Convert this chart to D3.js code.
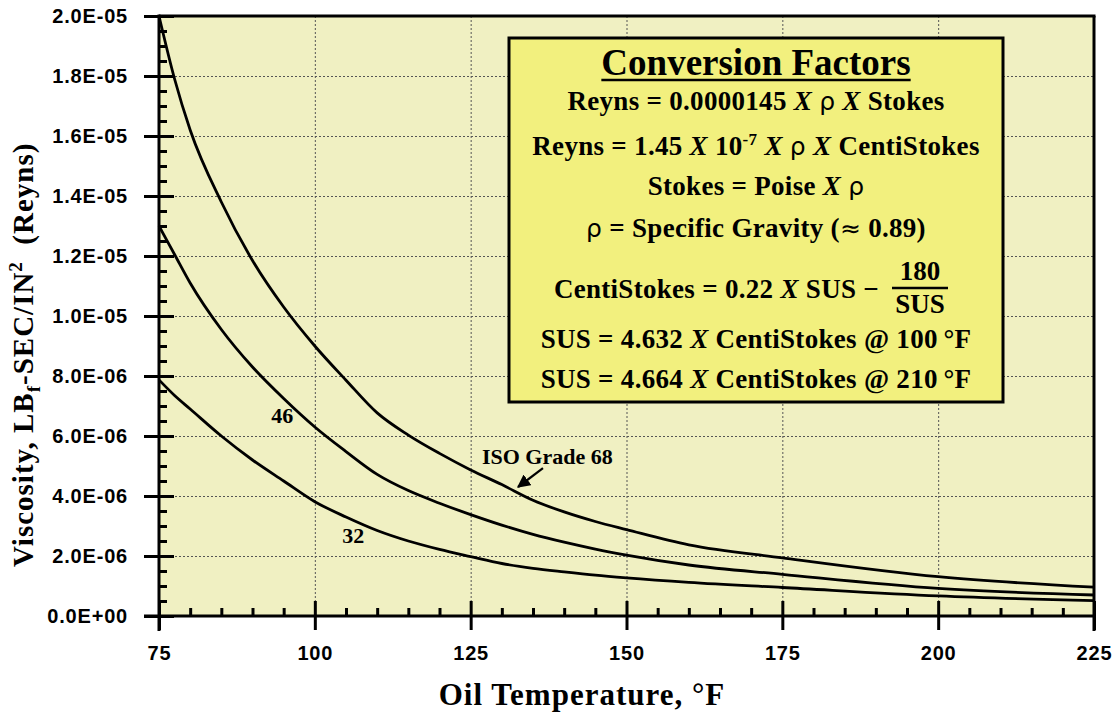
<!DOCTYPE html>
<html lang="en">
<head>
<meta charset="UTF-8">
<title>Oil Viscosity vs Temperature</title>
<script src="https://d3js.org/d3.v7.min.js"></script>
<style>
    body { margin: 0; background: #fff; }
    svg text { fill: #000; }
    .serif { font-family: "Liberation Serif", "Times New Roman", serif; font-weight: bold; }
    .sans { font-family: "Liberation Sans", Arial, sans-serif; font-weight: bold; }
</style>
</head>
<body>
<svg id="chart" width="1117" height="713"></svg>
<script>
    // temperatures (°F) that the curves were read at
    const temps = [75, 77.5, 80, 85, 90, 95, 100, 105, 110, 115, 120, 125, 130, 135, 140, 145, 150, 160, 175, 200, 225];

    // viscosity in Reyns for each ISO grade
    const iso68 = [20.0e-6, 17.9e-6, 16.2e-6, 13.8e-6, 11.85e-6, 10.3e-6, 9.0e-6, 7.86e-6, 6.77e-6, 6.03e-6, 5.42e-6, 4.87e-6,
                   4.38e-6, 3.86e-6, 3.47e-6, 3.15e-6, 2.88e-6, 2.37e-6, 1.94e-6, 1.31e-6, 0.96e-6];
    const iso46 = [13.0e-6, 12.05e-6, 11.1e-6, 9.55e-6, 8.3e-6, 7.25e-6, 6.3e-6, 5.48e-6, 4.72e-6, 4.18e-6, 3.76e-6, 3.38e-6,
                   3.03e-6, 2.72e-6, 2.46e-6, 2.23e-6, 2.03e-6, 1.7e-6, 1.39e-6, 0.92e-6, 0.7e-6];
    const iso32 = [7.87e-6, 7.35e-6, 6.9e-6, 6.0e-6, 5.2e-6, 4.5e-6, 3.81e-6, 3.3e-6, 2.85e-6, 2.5e-6, 2.22e-6, 1.98e-6,
                   1.75e-6, 1.59e-6, 1.47e-6, 1.36e-6, 1.27e-6, 1.12e-6, 0.95e-6, 0.67e-6, 0.51e-6];

    // tick values
    const xTicks = [75, 100, 125, 150, 175, 200, 225];
    const xMinorTicks = d3.range(80, 225, 5).filter(t => !xTicks.includes(t));
    const yTicks = d3.range(0, 11).map(i => i * 2e-6);
    const yMinorTicks = d3.range(0, 41).filter(i => i % 4 !== 0).map(i => i * 5e-7);

    // curve labels (left edge, baseline)
    const curveLabels = [
        {text: "46", t: 93.0, v: 6.43e-6},
        {text: "32", t: 104.4, v: 2.43e-6},
        {text: "ISO Grade 68", t: 126.8, v: 5.07e-6}
    ];

    const svg = d3.select("#chart");
    const margin = {top: 16, right: 23, bottom: 97, left: 159};
    const W = 1117, H = 713;

    const x = d3.scaleLinear().domain([75, 225]).range([margin.left, W - margin.right]);
    const y = d3.scaleLinear().domain([0, 2e-5]).range([H - margin.bottom, margin.top]);

    // plot background
    svg.append("rect")
        .attr("x", x(75)).attr("y", y(2e-5))
        .attr("width", x(225) - x(75)).attr("height", y(0) - y(2e-5))
        .attr("fill", "#f0f0c2");

    // grid
    const grid = svg.append("g").attr("stroke", "#555").attr("stroke-width", 1).attr("stroke-dasharray", "2,2");
    grid.selectAll("line.gx").data(xTicks.slice(1, -1)).join("line")
        .attr("x1", d => x(d) + 0.5).attr("x2", d => x(d) + 0.5)
        .attr("y1", y(2e-5)).attr("y2", y(0));
    grid.selectAll("line.gy").data(yTicks.slice(1, -1)).join("line")
        .attr("x1", x(75)).attr("x2", x(225))
        .attr("y1", d => Math.round(y(d)) + 0.5).attr("y2", d => Math.round(y(d)) + 0.5);

    // curves
    const line = d3.line()
        .x((d, i) => x(temps[i]))
        .y(d => y(d))
        .curve(d3.curveMonotoneX);

    [iso68, iso46, iso32].forEach(series => {
        svg.append("path")
            .datum(series)
            .attr("fill", "none")
            .attr("stroke", "#000")
            .attr("stroke-width", 2.8)
            .attr("d", line);
    });

    // curve labels
    svg.selectAll("text.clabel").data(curveLabels).join("text")
        .attr("class", "serif clabel")
        .attr("x", d => x(d.t)).attr("y", d => y(d.v))
        .attr("font-size", 22)
        .text(d => d.text);

    // arrow for ISO Grade 68
    svg.append("defs").append("marker")
        .attr("id", "arrow")
        .attr("viewBox", "0 0 10 10")
        .attr("refX", 9).attr("refY", 5)
        .attr("markerWidth", 6).attr("markerHeight", 6)
        .attr("markerUnits", "strokeWidth")
        .attr("orient", "auto")
        .append("path").attr("d", "M0,0 L10,5 L0,10 z").attr("fill", "#000");
    svg.append("line")
        .attr("x1", x(136.6)).attr("y1", y(4.93e-6))
        .attr("x2", x(132.6)).attr("y2", y(4.3e-6))
        .attr("stroke", "#000").attr("stroke-width", 2.2)
        .attr("marker-end", "url(#arrow)");

    // conversion factors box
    const box = {x: 509, y: 38, w: 494, h: 364};
    svg.append("rect")
        .attr("x", box.x).attr("y", box.y).attr("width", box.w).attr("height", box.h)
        .attr("fill", "#f2f07e").attr("stroke", "#000").attr("stroke-width", 3);
    const cx = box.x + box.w / 2;

    const title = svg.append("text")
        .attr("class", "serif").attr("x", cx).attr("y", 75)
        .attr("text-anchor", "middle").attr("font-size", 37)
        .text("Conversion Factors");
    const tb = title.node().getBBox();
    svg.append("line")
        .attr("x1", tb.x).attr("x2", tb.x + tb.width)
        .attr("y1", 80).attr("y2", 80)
        .attr("stroke", "#000").attr("stroke-width", 2.5);

    // each row: list of [text, style] parts
    const rows = [
        {y: 110, parts: [["Reyns = 0.0000145 "], ["X", "i"], [" "], ["\u03c1", "r"], [" "], ["X", "i"], [" Stokes"]]},
        {y: 155, parts: [["Reyns = 1.45 "], ["X", "i"], [" 10"], ["-7", "sup"], [" "], ["X", "i"], [" "], ["\u03c1", "r"], [" "], ["X", "i"], [" CentiStokes"]]},
        {y: 195, parts: [["Stokes = Poise "], ["X", "i"], [" "], ["\u03c1", "r"]]},
        {y: 237, parts: [["\u03c1", "r"], [" = Specific Gravity ("], ["\u2248", "r"], [" 0.89)"]]},
        {y: 348, parts: [["SUS = 4.632 "], ["X", "i"], [" CentiStokes @ 100\u2009\u00b0F"]]},
        {y: 388, parts: [["SUS = 4.664 "], ["X", "i"], [" CentiStokes @ 210\u2009\u00b0F"]]}
    ];

    function addRow(r, xPos, anchor) {
        const t = svg.append("text")
            .attr("class", "serif").attr("x", xPos).attr("y", r.y)
            .attr("text-anchor", anchor).attr("font-size", 27)
            .attr("letter-spacing", 0.3);
        let shifted = false;
        r.parts.forEach(p => {
            const s = t.append("tspan").text(p[0]);
            if (shifted) { s.attr("dy", 10); shifted = false; }
            if (p[1] === "i") s.attr("font-style", "italic");
            if (p[1] === "r") s.attr("font-weight", "normal").attr("font-family", "'DejaVu Sans', sans-serif").attr("font-size", 25);
            if (p[1] === "sup") { s.attr("dy", -10).attr("font-size", 17); shifted = true; }
        });
        return t;
    }
    rows.forEach(r => addRow(r, cx, "middle"));

    // centistokes row with a fraction
    addRow({y: 298, parts: [["CentiStokes = 0.22 "], ["X", "i"], [" SUS \u2212"]]}, 879, "end");
    svg.append("text").attr("class", "serif").attr("x", 920).attr("y", 280)
        .attr("text-anchor", "middle").attr("font-size", 27).text("180");
    svg.append("line").attr("x1", 892).attr("x2", 948).attr("y1", 288).attr("y2", 288)
        .attr("stroke", "#000").attr("stroke-width", 2.5);
    svg.append("text").attr("class", "serif").attr("x", 920).attr("y", 313)
        .attr("text-anchor", "middle").attr("font-size", 27).text("SUS");

    // axes
    const fmt = v => {
        const [m, e] = v.toExponential(1).toUpperCase().split("E");
        const sign = e[0] === "-" ? "-" : "+";
        const digits = e.replace(/[+-]/, "").padStart(2, "0");
        return m + "E" + sign + digits;
    };

    const yAxis = svg.append("g").attr("transform", `translate(${x(75)},0)`)
        .call(d3.axisLeft(y).tickValues(yTicks).tickSize(15).tickPadding(16).tickFormat(fmt));
    yAxis.selectAll(".tick line").attr("x2", -15).attr("x1", 15);
    const yMinor = svg.append("g").attr("transform", `translate(${x(75)},0)`)
        .call(d3.axisRight(y).tickValues(yMinorTicks).tickSize(8).tickFormat(""));

    const xAxis = svg.append("g").attr("transform", `translate(0,${y(0)})`)
        .call(d3.axisBottom(x).tickValues(xTicks).tickSize(14).tickPadding(16).tickFormat(d3.format("d")));
    xAxis.selectAll(".tick line").attr("y1", -15);
    const xMinor = svg.append("g").attr("transform", `translate(0,${y(0)})`)
        .call(d3.axisTop(x).tickValues(xMinorTicks).tickSize(8).tickFormat(""));

    [yAxis, yMinor, xAxis, xMinor].forEach(g => {
        g.select(".domain").remove();
        g.attr("font-size", null).attr("font-family", null);
        g.selectAll(".tick line").attr("stroke", "#000").attr("stroke-width", 3);
        g.selectAll(".tick text").attr("class", "sans").attr("font-size", 20)
            .attr("letter-spacing", 0.8).attr("fill", "#000");
    });

    // frame: axis lines plus top and right borders
    const frame = svg.append("g").attr("stroke", "#000").attr("stroke-width", 3).attr("fill", "none");
    frame.append("line").attr("x1", x(75)).attr("x2", x(75)).attr("y1", y(2e-5) - 1.5).attr("y2", y(0) + 15);
    frame.append("line").attr("x1", x(75) - 15).attr("x2", x(225) + 1.5).attr("y1", y(0)).attr("y2", y(0));
    frame.append("line").attr("x1", x(75)).attr("x2", x(225) + 1.5).attr("y1", y(2e-5)).attr("y2", y(2e-5));
    frame.append("line").attr("x1", x(225)).attr("x2", x(225)).attr("y1", y(2e-5)).attr("y2", y(0) + 15);

    // axis titles
    svg.append("text")
        .attr("class", "serif")
        .attr("x", 582).attr("y", 705)
        .attr("text-anchor", "middle").attr("font-size", 31)
        .attr("letter-spacing", 1)
        .text("Oil Temperature, \u00b0F");

    const yTitle = svg.append("text")
        .attr("class", "serif")
        .attr("transform", "translate(33,567) rotate(-90)")
        .attr("font-size", 29)
        .attr("letter-spacing", 1);
    yTitle.append("tspan").text("Viscosity, LB");
    yTitle.append("tspan").attr("dy", 7).attr("font-size", 19).text("f");
    yTitle.append("tspan").attr("dy", -7).text("-SEC/IN");
    yTitle.append("tspan").attr("dy", -11).attr("font-size", 19).text("2");
    yTitle.append("tspan").attr("dy", 11).text("\u00a0\u00a0(Reyns)");
</script>
</body>
</html>
